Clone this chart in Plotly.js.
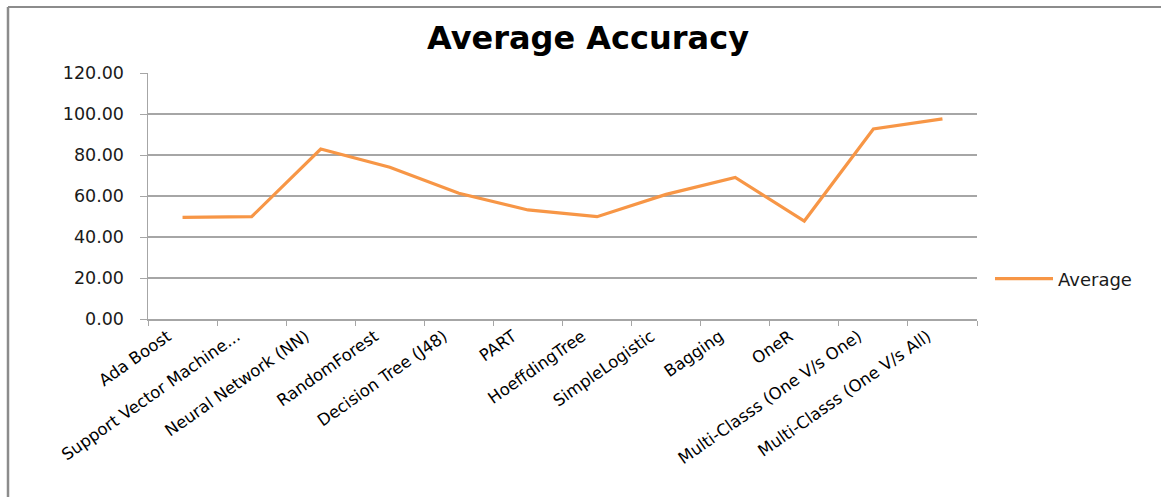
<!DOCTYPE html>
<html>
<head>
<meta charset="utf-8">
<script src="https://cdn.plot.ly/plotly-3.0.1.min.js"></script>
<style>
html,body{margin:0;padding:0;background:#fff;}
#chart{width:1161px;height:497px;}
</style>
</head>
<body>
<div id="chart"></div>
<script>
const categories = [
  "Ada Boost",
  "Support Vector Machine...",
  "Neural Network (NN)",
  "RandomForest",
  "Decision Tree (J48)",
  "PART",
  "HoeffdingTree",
  "SimpleLogistic",
  "Bagging",
  "OneR",
  "Multi-Classs (One V/s One)",
  "Multi-Classs (One V/s All)"
];
const averageValues = [49.6, 49.9, 82.9, 74.0, 61.3, 53.2, 49.9, 60.8, 69.1, 47.8, 92.7, 97.6];
const seriesName = "Average";
const yTicks = [0, 20, 40, 60, 80, 100, 120];

const W = 1161, H = 497;
const L = 148, R = 184, T = 73, B = 178;
const pw = W - L - R, ph = H - T - B;
const px = v => (v - L) / pw;
const py = v => (H - B - v) / ph;

const trace = {
  x: categories,
  y: averageValues,
  type: 'scatter',
  mode: 'lines',
  name: seriesName,
  line: {color: '#F79646', width: 3.2},
  hoverinfo: 'x+y'
};

const layout = {
  width: W, height: H,
  margin: {l: L, r: R, t: T, b: B, pad: 0},
  paper_bgcolor: '#ffffff',
  plot_bgcolor: '#ffffff',
  title: {
    text: '<b>Average Accuracy</b>',
    font: {family: 'DejaVu Sans', size: 32, color: '#000000'},
    x: 588 / W, xanchor: 'center',
    y: 1 - 38 / H, yanchor: 'middle',
    xref: 'container', yref: 'container'
  },
  xaxis: {
    type: 'category',
    tickangle: -35,
    tickfont: {family: 'DejaVu Sans', size: 16.5, color: '#000000'},
    ticks: 'outside',
    tickson: 'boundaries',
    ticklen: 5,
    tickcolor: '#a6a6a6',
    ticklabelshift: -15,
    showline: true,
    linecolor: '#a6a6a6',
    linewidth: 1.5,
    showgrid: false,
    range: [-0.5, categories.length - 0.5],
    fixedrange: true
  },
  yaxis: {
    range: [0, 120],
    tickvals: yTicks,
    tickformat: '.2f',
    tickfont: {family: 'DejaVu Sans', size: 17.5, color: '#1a1a1a'},
    ticks: 'outside',
    ticklen: 7,
    tickcolor: '#a6a6a6',
    ticklabelstandoff: 12,
    showline: true,
    linecolor: '#a6a6a6',
    linewidth: 1.5,
    showgrid: true,
    gridcolor: '#a6a6a6',
    gridwidth: 1.2,
    zeroline: false,
    fixedrange: true
  },
  showlegend: true,
  legend: {
    x: px(990), xanchor: 'left',
    y: py(279), yanchor: 'middle',
    font: {family: 'DejaVu Sans', size: 18, color: '#1a1a1a'},
    itemwidth: 58,
    bgcolor: 'rgba(0,0,0,0)',
    borderwidth: 0
  },
  shapes: [
    {type: 'line', xref: 'paper', yref: 'paper', x0: px(8), x1: px(W + 5), y0: py(7), y1: py(7),
     line: {color: '#8c8c8c', width: 2}},
    {type: 'line', xref: 'paper', yref: 'paper', x0: px(8), x1: px(8), y0: py(7), y1: py(H + 5),
     line: {color: '#8c8c8c', width: 2.5}}
  ]
};

Plotly.newPlot('chart', [trace], layout, {displayModeBar: false, staticPlot: true});
</script>
</body>
</html>
